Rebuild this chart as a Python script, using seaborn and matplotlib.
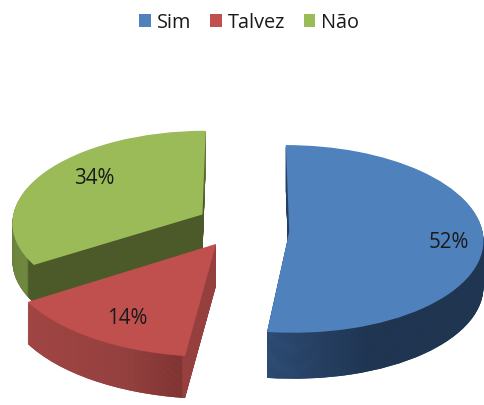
import numpy as np
import seaborn as sns
import matplotlib
matplotlib.use("Agg")
import matplotlib.pyplot as plt
from matplotlib.colors import LinearSegmentedColormap, to_rgb
from matplotlib.transforms import Affine2D, Transform

categories = ["Sim", "Talvez", "Não"]
values = [52, 14, 34]

sns.set_theme(style="white")
plt.rcParams["font.family"] = ["Open Sans", "DejaVu Sans"]

W, H = 485, 405
cx, cy = 243, 230          # pie centre in pixels
ux, uy = 193, 93           # pixels per pie radius
tilt = 0.08                # perspective, front of the pie looks bigger

top_colors = sns.color_palette(["#4f81bd", "#c0504d", "#9bbb59"])
side_colors = ["#233b5c", "#924040", "#4c5a2a"]
# side shading, left to right: (pixel x, colour)
side_stops = [
    [(0, "#30507a"), (266, "#30507a"), (330, "#263f60"), (370, "#1f3450"), (485, "#20364f")],
    [(0, "#a54845"), (32, "#a54845"), (120, "#974240"), (181, "#7e3432"), (183, "#9a403e"), (485, "#9a403e")],
    [(0, "#87a44f"), (26, "#7f9a48"), (28, "#4c5a2a"), (203, "#4c5a2a"), (205, "#7f9a48"), (485, "#7f9a48")],
]
explode = [0.24, 0.2, 0.26]
size = [1.0, 1.08, 0.99]
nudge = [(0, 0), (-6, -2), (3, -4)]
depth = [46, 42, 38]
z_base = [3, 2, 1]
label_px = [(449, 242), (127, 318), (94, 179)]
n_layers = 48


class Tilt(Transform):
    input_dims = output_dims = 2

    def transform_non_affine(self, values):
        v = np.asarray(values, dtype=float)
        return v / (1 + tilt * v[:, 1:2])


def px(x, y):
    return (x - cx) / ux, (cy - y) / uy


def place(w, i, shift=0.0):
    c = w.center
    grow = Affine2D().translate(-c[0], -c[1]).scale(size[i]).translate(c[0], c[1])
    tr = Affine2D().translate(nudge[i][0] / ux, -(nudge[i][1] + shift * depth[i]) / uy)
    w.set_transform(grow + Tilt() + tr + ax.transData)


fig = plt.figure(figsize=(W / 100, H / 100), dpi=100)
ax = fig.add_axes([0, 0, 1, 1])
xlim = (px(0, 0)[0], px(W, 0)[0])
ylim = (px(0, H)[1], px(0, 0)[1])
grad = np.linspace(0, 1, W).reshape(1, -1)

cmaps = []
for stops in side_stops:
    cmaps.append(LinearSegmentedColormap.from_list(
        "side", [(x / W, to_rgb(c)) for x, c in stops], N=512))

# extrusion: the same pie stacked from the bottom up
for k, t in enumerate(np.linspace(1, 0, n_layers, endpoint=False)):
    wedges, _ = ax.pie(values, explode=explode, colors=side_colors, startangle=90,
                       counterclock=False, radius=1, wedgeprops={"linewidth": 0})
    for i, w in enumerate(wedges):
        place(w, i, t)
        z = z_base[i] + k / (n_layers * 2)
        w.set_zorder(z)
        im = ax.imshow(grad, cmap=cmaps[i], vmin=0, vmax=1, aspect="auto",
                       extent=(*xlim, *ylim), zorder=z + 0.001)
        im.set_clip_path(w)

wedges, _, pct = ax.pie(values, explode=explode, colors=top_colors, startangle=90,
                        counterclock=False, radius=1, autopct="%.0f%%",
                        wedgeprops={"linewidth": 0})
for i, w in enumerate(wedges):
    place(w, i)
    w.set_zorder(z_base[i] + 0.9)
    pct[i].set_position(px(*label_px[i]))
    pct[i].set_fontsize(14.8)
    pct[i].set_color("#1a1a1a")
    pct[i].set_zorder(10)

ax.set_aspect("auto")
ax.set_xlim(xlim)
ax.set_ylim(ylim)
ax.axis("off")

ax.legend(wedges, categories, ncol=3, loc="upper center", bbox_to_anchor=(0.514, 1.013),
          frameon=False, fontsize=14.3, handlelength=0.58, handleheight=0.58,
          handletextpad=0.3, columnspacing=0.95, labelcolor="#1a1a1a")

fig.savefig("out.png", dpi=100)
